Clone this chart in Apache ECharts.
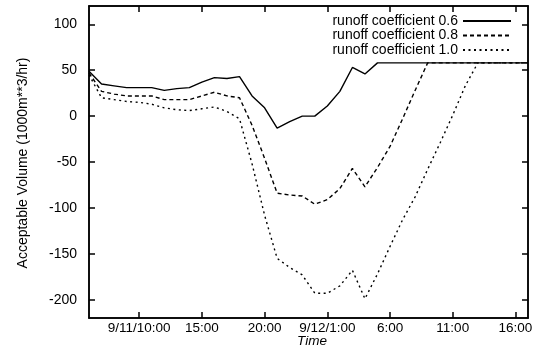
<!DOCTYPE html>
<html>
<head>
<meta charset="utf-8">
<script src="https://cdn.jsdelivr.net/npm/echarts@6/dist/echarts.min.js"></script>
<style>
  html, body { margin: 0; padding: 0; background: #fff; }
  #main { width: 539px; height: 359px; }
</style>
</head>
<body>
<div id="main"></div>
<script>
// hours counted from 9/11 0:00
const hours = [6, 7, 8, 9, 10, 11, 12, 13, 14, 15, 16, 17, 18, 19, 20, 21, 22, 23,
  24, 25, 26, 27, 28, 29, 30, 31, 32, 33, 34, 35, 36, 37, 38, 39, 40, 41];

const runoff06 = [49, 35, 33, 31, 31, 31, 28, 30, 31, 37, 42, 41, 43, 22, 9, -13, -6, 0,
  0, 11, 27, 53, 46, 58, 58, 58, 58, 58, 58, 58, 58, 58, 58, 58, 58, 58];
const runoff08 = [47, 27, 24, 22, 22, 22, 18, 18, 18, 22, 26, 22, 20, -10, -46, -84, -86, -87,
  -96, -91, -79, -57, -77, -56, -33, -3, 28, 58, 58, 58, 58, 58, 58, 58, 58, 58];
const runoff10 = [45, 20, 18, 16, 15, 13, 9, 7, 6, 8, 10, 5, -3, -52, -108, -155, -165, -173,
  -193, -193, -185, -168, -199, -172, -142, -113, -88, -58, -29, 1, 33, 58, 58, 58, 58, 58];

const seriesNames = ['runoff coefficient 0.6', 'runoff coefficient 0.8', 'runoff coefficient 1.0'];

const xTicks = [10, 15, 20, 25, 30, 35, 40];
const xTickLabels = {10: '9/11/10:00', 15: '15:00', 20: '20:00', 25: '9/12/1:00', 30: '6:00', 35: '11:00', 40: '16:00'};
const yTicks = [-200, -150, -100, -50, 0, 50, 100];

const xTitle = 'Time';
const yTitle = 'Acceptable Volume (1000m**3/hr)';

const chart = echarts.init(document.getElementById('main'), null, { renderer: 'canvas' });

const font = '"Liberation Sans", Arial, Helvetica, sans-serif';
const pair = vals => hours.map((h, i) => [h, vals[i]]);

chart.setOption({
  animation: false,
  grid: { left: 89, right: 11, top: 6, bottom: 41, show: true, borderColor: '#000', borderWidth: 1.5, outerBoundsMode: 'none' },
  legend: {
    data: seriesNames,
    orient: 'vertical',
    align: 'right',
    right: 22,
    top: 9,
    itemWidth: 48,
    itemHeight: 12,
    itemGap: 0.5,
    itemStyle: { color: 'rgba(0,0,0,0)', borderColor: 'rgba(0,0,0,0)', borderWidth: 0 },
    textStyle: { fontSize: 14, color: '#000', fontFamily: font, lineHeight: 13 },
  },
  // axis titles as plain text
  graphic: [
    {
      type: 'text',
      x: 312,
      y: 341,
      silent: true,
      style: {
        text: xTitle,
        fill: '#000',
        font: 'italic 13.5px ' + font,
        align: 'center',
        verticalAlign: 'middle',
      },
    },
    {
      type: 'text',
      x: 23,
      y: 163,
      rotation: Math.PI / 2,
      silent: true,
      style: {
        text: yTitle,
        fill: '#000',
        font: '14px ' + font,
        align: 'center',
        verticalAlign: 'middle',
      },
    },
  ],
  xAxis: [
    {
      type: 'value', min: 6, max: 41,
      splitLine: { show: false },
      axisLine: { show: true, onZero: false, lineStyle: { color: '#000', width: 1.5 } },
      axisTick: { show: true, inside: true, length: 6, customValues: xTicks, lineStyle: { color: '#000', width: 1.5 } },
      axisLabel: {
        customValues: xTicks,
        fontSize: 13.5,
        fontFamily: font,
        color: '#000',
        margin: 3,
        formatter: v => xTickLabels[v] || '',
      },
    },
    {
      type: 'value', min: 6, max: 41, position: 'top',
      splitLine: { show: false },
      axisLine: { show: true, onZero: false, lineStyle: { color: '#000', width: 1.5 } },
      axisTick: { show: true, inside: true, length: 6, customValues: xTicks, lineStyle: { color: '#000', width: 1.5 } },
      axisLabel: { show: false },
    },
  ],
  yAxis: [
    {
      type: 'value', min: -220, max: 120,
      splitLine: { show: false },
      axisLine: { show: true, onZero: false, lineStyle: { color: '#000', width: 1.5 } },
      axisTick: { show: true, inside: true, length: 6, customValues: yTicks, lineStyle: { color: '#000', width: 1.5 } },
      axisLabel: { customValues: yTicks, fontSize: 14, fontFamily: font, color: '#000', margin: 12 },
    },
    {
      type: 'value', min: -220, max: 120, position: 'right',
      splitLine: { show: false },
      axisLine: { show: true, onZero: false, lineStyle: { color: '#000', width: 1.5 } },
      axisTick: { show: true, inside: true, length: 6, customValues: yTicks, lineStyle: { color: '#000', width: 1.5 } },
      axisLabel: { show: false },
    },
  ],
  series: [
    {
      name: seriesNames[0],
      type: 'line',
      symbol: 'none',
      data: pair(runoff06),
      lineStyle: { color: '#000', width: 1.4 },
      itemStyle: { color: '#000' },
    },
    {
      name: seriesNames[1],
      type: 'line',
      symbol: 'none',
      data: pair(runoff08),
      lineStyle: { color: '#000', width: 1.4, type: [4, 3] },
      itemStyle: { color: '#000' },
    },
    {
      name: seriesNames[2],
      type: 'line',
      symbol: 'none',
      data: pair(runoff10),
      lineStyle: { color: '#000', width: 1.4, type: [2, 3.5] },
      itemStyle: { color: '#000' },
    },
  ],
});
</script>
</body>
</html>
